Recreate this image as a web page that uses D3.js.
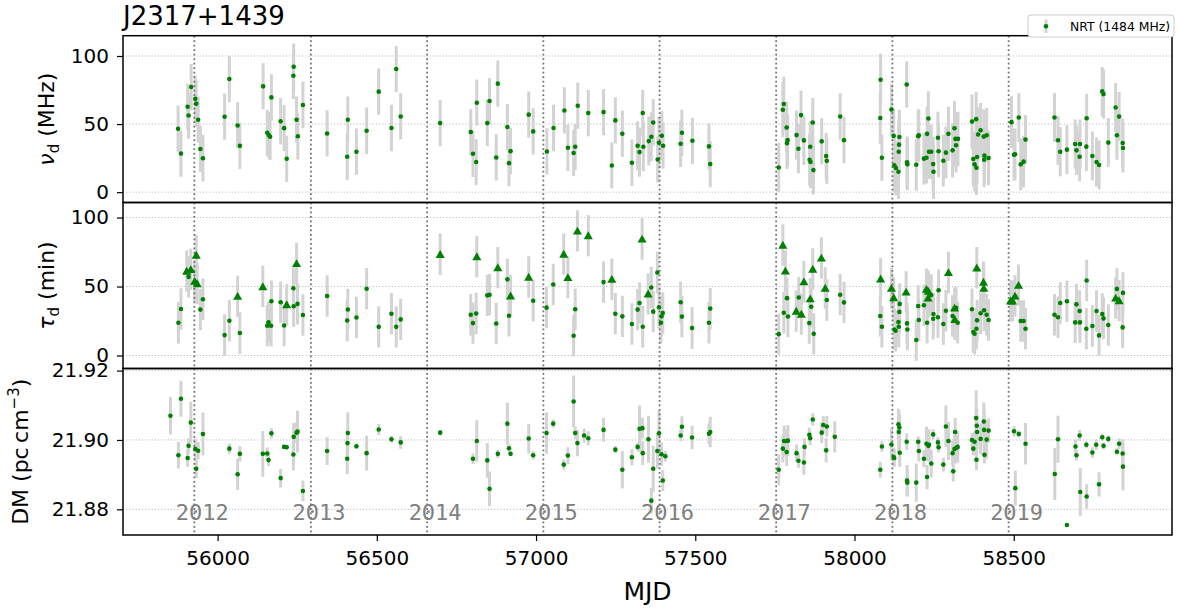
<!DOCTYPE html>
<html><head><meta charset="utf-8">
<script src="https://cdn.jsdelivr.net/npm/d3@7"></script>
<style>body{margin:0;background:#fff} svg{font-family:"DejaVu Sans",sans-serif}</style>
</head><body><svg id="c" width="1177" height="610"></svg>
<script>
const titleText = "J2317+1439";
const legendLabel = "NRT (1484 MHz)";
const xTicks = [56000, 56500, 57000, 57500, 58000, 58500];
const yearMJD = [55927, 56293, 56658, 57023, 57388, 57754, 58119, 58484];
const yearLabels = ["2012", "2013", "2014", "2015", "2016", "2017", "2018", "2019"];
const nuTicks = [0, 50, 100];
const tauTicks = [0, 50, 100];
const dmTicks = [21.88, 21.90, 21.92];

// [MJD, nu_d (MHz), error]
const nuData = [
[55876,46.6,17],[55885,28.3,17],[55906,62.7,17],[55909,56.3,17],[55917,77.2,17],[55930,68.6,17],[55933,65.0,17],[55939,53.2,17],[55946,31.7,17],[55954,24.9,17],
[56022,55.4,17],[56037,83.1,17],[56063,49.0,17],[56070,34.0,17],[56143,77.7,17],[56156,43.6,17],[56161,41.9,17],[56165,40.7,17],[56169,69.6,17],[56198,52.0,17],
[56209,47.0,17],[56217,24.5,17],[56238,85.5,17],[56239,92.1,17],[56248,53.2,17],[56252,41.0,17],[56268,64.0,17],[56344,43.1,17],[56407,26.0,17],[56409,53.2,17],
[56436,29.7,17],[56468,45.1,17],[56506,73.8,17],[56546,47.1,17],[56561,90.4,17],[56575,55.6,17],[56699,50.7,17],[56795,44.1,17],[56802,28.2,17],[56812,22.1,17],
[56814,65.7,17],[56847,50.7,17],[56854,66.9,17],[56875,25.5,17],[56880,79.7,17],[56910,47.8,17],[56915,21.3,17],[56920,30.1,17],[56977,56.9,17],[56991,44.6,17],
[57034,29.9,17],[57055,47.1,17],[57089,60.0,17],[57100,32.6,17],[57118,28.8,17],[57123,33.3,17],[57131,63.5,17],[57164,58.1,17],[57212,58.8,17],[57238,19.6,17],
[57249,52.7,17],[57271,42.9,17],[57301,21.6,17],[57319,34.1,18],[57325,29.4,18],[57335,58.1,17],[57337,33.3,18],[57354,37.5,18],[57362,40.7,18],[57368,51.2,17],
[57382,24.0,17],[57386,36.3,19],[57395,41.4,18],[57399,34.1,17],[57454,35.5,17],[57458,43.6,17],[57491,37.7,17],[57543,33.6,17],[57547,20.6,17],
[57762,18.1,18],[57775,60.5,20],[57778,64.7,20],[57787,47.5,19],[57788,36.0,19],[57790,38.2,19],[57818,41.9,18],[57824,31.9,18],[57832,56.6,18],[57841,38.0,18],
[57859,23.8,19],[57861,33.3,19],[57862,22.1,19],[57869,51.2,18],[57871,16.2,18],[57897,37.3,17],[57911,26.5,17],[57913,23.0,17],[57955,55.6,17],[57967,38.2,17],
[58081,54.5,19],[58082,82.6,19],[58086,25.3,17],[58116,60.7,19],[58123,41.3,20],[58125,19.7,20],[58130,17.7,20],[58138,15.0,20],[58139,29.7,20],[58140,34.9,20],
[58141,40.5,20],[58164,79.1,17],[58165,21.9,19],[58166,20.4,19],[58194,20.1,19],[58200,41.0,19],[58202,41.8,19],[58218,24.6,19],[58226,25.3,19],[58228,42.8,20],
[58232,54.1,20],[58234,29.7,20],[58241,29.7,20],[58247,20.6,20],[58248,15.0,20],[58262,40.0,19],[58264,30.0,19],[58279,23.1,19],[58287,29.0,19],[58295,42.8,20],
[58308,30.7,20],[58314,46.9,20],[58317,39.1,20],[58319,34.4,20],[58325,39.1,20],[58369,51.8,20],[58373,24.3,20],[58377,20.4,20],[58382,53.6,20],[58383,17.9,20],
[58385,25.8,20],[58388,42.3,20],[58396,45.5,20],[58406,40.8,20],[58407,23.8,20],[58408,26.8,20],[58415,41.8,20],[58421,25.1,20],
[58493,51.4,19],[58501,27.5,19],[58504,27.8,19],[58516,54.8,18],[58522,20.4,19],[58531,22.4,19],[58537,38.6,18],[58628,54.8,18],[58639,38.1,18],[58646,29.7,18],
[58667,31.2,18],[58693,35.4,18],[58697,30.7,18],[58707,26.0,18],[58708,35.4,18],[58728,33.4,18],[58729,54.3,18],[58747,26.5,18],[58760,22.1,18],[58768,19.9,18],
[58778,74.0,18],[58782,72.0,18],[58797,36.4,18],[58820,62.2,18],[58824,41.8,18],[58831,55.5,18],[58842,36.1,18],[58843,32.4,18]
];

// [MJD, tau_d (min), error, limit flag (1 = triangle)]
const tauData = [
[55877,23.8,15,0],[55885,33.7,15,0],[55903,61.2,15,1],[55909,57.0,15,0],[55916,62.4,15,1],[55928,53.9,15,1],[55933,72.8,15,1],[55936,52.2,15,1],[55946,33.3,15,0],[55954,40.8,15,0],
[56022,14.8,15,0],[56037,25.2,15,0],[56063,43.0,15,1],[56070,16.3,15,0],[56142,50.0,15,1],[56156,21.6,15,0],[56160,24.0,15,0],[56168,21.6,15,0],[56169,39.3,15,0],[56198,38.6,15,0],
[56209,21.8,15,0],[56217,36.9,15,1],[56238,48.8,15,0],[56239,35.7,15,0],[56248,66.7,15,1],[56251,37.4,15,0],[56268,29.4,15,0],[56344,43.1,15,0],[56407,25.4,15,0],[56409,33.4,15,0],
[56436,27.6,15,0],[56468,48.4,15,0],[56506,20.8,15,0],[56546,30.3,15,0],[56561,20.8,15,0],[56575,26.2,15,0],[56699,73.4,15,1],[56795,29.5,15,0],[56802,23.5,15,0],[56812,30.5,15,0],
[56814,71.7,15,1],[56847,43.6,15,0],[56854,44.1,15,0],[56875,23.2,15,0],[56880,63.7,15,1],[56910,55.2,15,0],[56915,28.8,15,0],[56920,43.3,15,1],[56977,56.9,15,1],[56991,39.7,15,0],
[57033,34.7,15,0],[57054,51.5,15,0],[57087,73.5,15,1],[57100,56.6,15,1],[57118,14.3,15,0],[57123,33.5,15,0],[57130,90.3,15,1],[57164,86.9,15,1],[57212,53.2,15,0],[57238,55.3,15,1],
[57249,30.3,15,0],[57271,28.4,15,0],[57301,22.8,15,0],[57319,33.3,15,0],[57325,38.1,15,0],[57333,84.5,15,1],[57335,20.9,15,0],[57352,44.7,15,1],[57362,49.3,15,0],[57368,31.8,15,0],
[57381,60.2,15,0],[57386,35.0,15,0],[57392,23.8,15,0],[57394,28.4,15,0],[57398,30.8,15,0],[57454,38.6,15,0],[57458,28.2,15,0],[57490,19.9,15,0],[57543,23.8,15,0],[57547,34.0,15,0],
[57762,15.5,15,0],[57775,80.1,15,1],[57778,31.0,15,0],[57783,61.3,15,1],[57788,41.6,15,0],[57791,28.3,15,0],[57817,32.2,15,1],[57825,42.1,15,0],[57833,30.0,15,1],[57841,53.5,15,1],
[57858,23.5,15,0],[57861,41.2,15,1],[57864,35.4,15,0],[57869,62.7,15,1],[57872,15.7,15,0],[57896,70.7,15,1],[57908,48.9,15,1],[57913,40.2,15,0],[57955,44.1,15,0],[57967,38.5,15,0],
[58081,28.6,15,0],[58082,55.6,15,1],[58086,20.9,15,0],[58116,48.8,15,1],[58123,42.0,15,1],[58125,18.9,15,0],[58129,18.0,15,0],[58138,24.3,15,0],[58139,20.9,15,0],[58141,31.6,15,0],
[58142,37.4,15,0],[58162,46.1,15,1],[58165,23.3,15,0],[58166,18.9,15,0],[58194,11.2,15,0],[58200,35.9,15,0],[58202,25.7,15,0],[58218,36.4,15,0],[58226,48.1,15,1],[58228,23.8,15,0],
[58231,41.7,15,1],[58232,46.6,15,1],[58237,43.7,15,0],[58241,43.9,15,0],[58247,26.7,15,0],[58248,30.1,15,0],[58262,27.7,15,0],[58264,47.3,15,0],[58279,22.8,15,0],[58287,32.5,15,0],
[58295,60.2,15,1],[58308,28.6,15,0],[58314,34.5,15,1],[58315,26.2,15,1],[58319,34.5,15,0],[58324,23.8,15,0],[58369,33.5,15,0],[58373,17.0,15,0],[58377,15.8,15,0],[58383,19.4,15,0],
[58384,63.6,15,1],[58385,25.5,15,0],[58396,30.6,15,0],[58405,53.2,15,1],[58406,48.8,15,1],[58407,32.8,15,0],[58415,29.6,15,0],[58421,25.7,15,0],
[58490,39.6,15,1],[58496,39.6,15,1],[58504,43.2,15,1],[58515,51.0,15,1],[58522,25.0,15,0],[58531,25.0,15,0],[58537,19.4,15,0],[58628,29.6,15,0],[58639,27.7,15,0],[58646,38.1,15,0],
[58667,39.3,15,0],[58693,24.0,15,0],[58697,37.1,15,0],[58707,32.3,15,0],[58708,24.0,15,0],[58728,19.4,15,0],[58729,54.4,15,0],[58747,21.4,15,0],[58760,32.3,15,0],[58768,14.6,15,0],
[58778,30.1,15,0],[58782,26.9,15,0],[58797,22.1,15,0],[58820,41.7,15,1],[58824,48.3,15,0],[58831,39.8,15,1],[58842,20.4,15,0],[58843,45.4,15,0]
];

// [MJD, DM (pc cm^-3), error]
const dmData = [
[55852,21.9070,0.0054],[55877,21.8956,0.0038],[55885,21.9119,0.0052],[55906,21.8948,0.0025],[55909,21.8983,0.0022],[55916,21.9050,0.0060],[55930,21.8974,0.0030],[55933,21.8917,0.0027],[55939,21.8969,0.0025],[55954,21.9017,0.0062],
[56037,21.8975,0.0015],[56063,21.8901,0.0045],[56070,21.8960,0.0022],[56142,21.8960,0.0066],[56156,21.8961,0.0017],[56160,21.8942,0.0017],[56169,21.9019,0.0015],[56198,21.8890,0.0027],[56209,21.8980,0.0006],[56217,21.8979,0.0006],
[56238,21.8958,0.0046],[56239,21.9009,0.0040],[56248,21.9021,0.0030],[56251,21.9024,0.0060],[56268,21.8853,0.0030],[56344,21.8968,0.0040],[56407,21.8946,0.0045],[56408,21.8991,0.0040],[56409,21.9020,0.0060],[56436,21.8982,0.0008],
[56468,21.8962,0.0050],[56506,21.9030,0.0016],[56546,21.9002,0.0010],[56575,21.8993,0.0018],[56699,21.9021,0.0008],[56802,21.8946,0.0015],[56814,21.8997,0.0060],[56847,21.8941,0.0050],[56854,21.8859,0.0050],[56880,21.8960,0.0012],
[56910,21.9047,0.0060],[56915,21.8976,0.0012],[56920,21.8960,0.0006],[56977,21.9004,0.0042],[56991,21.8956,0.0012],[57033,21.9020,0.0060],[57054,21.9047,0.0012],[57087,21.8929,0.0015],[57100,21.8955,0.0024],[57118,21.9111,0.0075],
[57123,21.9020,0.0018],[57130,21.8991,0.0038],[57151,21.9013,0.0020],[57164,21.9005,0.0020],[57212,21.9029,0.0034],[57249,21.8972,0.0010],[57271,21.8914,0.0054],[57301,21.8950,0.0023],[57319,21.8980,0.0012],[57325,21.9032,0.0067],
[57334,21.9034,0.0030],[57335,21.8962,0.0034],[57353,21.9002,0.0068],[57362,21.8825,0.0037],[57368,21.8917,0.0066],[57381,21.8968,0.0050],[57386,21.9019,0.0066],[57394,21.8959,0.0034],[57398,21.8883,0.0030],[57406,21.8953,0.0015],
[57454,21.9013,0.0017],[57458,21.9038,0.0030],[57490,21.9007,0.0034],[57543,21.9018,0.0030],[57547,21.9023,0.0044],
[57762,21.8914,0.0045],[57775,21.8975,0.0040],[57779,21.8997,0.0045],[57787,21.8965,0.0040],[57788,21.8997,0.0035],[57791,21.8998,0.0045],[57818,21.8962,0.0025],[57824,21.8940,0.0020],[57841,21.8935,0.0035],[57843,21.8980,0.0025],
[57858,21.9015,0.0020],[57861,21.9005,0.0020],[57869,21.9059,0.0018],[57897,21.9021,0.0030],[57902,21.9043,0.0025],[57911,21.8970,0.0035],[57913,21.9039,0.0030],[57938,21.9009,0.0045],
[58081,21.8914,0.0023],[58086,21.8981,0.0015],[58116,21.8987,0.0045],[58123,21.8951,0.0027],[58125,21.8948,0.0025],[58138,21.9045,0.0045],[58139,21.9023,0.0060],[58141,21.9036,0.0040],[58142,21.8963,0.0040],[58164,21.8995,0.0024],
[58165,21.8883,0.0045],[58166,21.8877,0.0040],[58194,21.8877,0.0055],[58200,21.8995,0.0015],[58202,21.8968,0.0030],[58218,21.8946,0.0025],[58226,21.8989,0.0050],[58228,21.8893,0.0035],[58232,21.8983,0.0045],[58234,21.8986,0.0045],
[58241,21.8932,0.0040],[58247,21.9016,0.0015],[58262,21.8993,0.0015],[58264,21.8979,0.0015],[58279,21.8929,0.0020],[58287,21.9039,0.0060],[58295,21.8997,0.0055],[58308,21.8962,0.0035],[58310,21.8910,0.0030],[58314,21.8974,0.0040],
[58316,21.9023,0.0040],[58319,21.8977,0.0045],[58324,21.8980,0.0045],[58369,21.9000,0.0020],[58373,21.8975,0.0020],[58377,21.8995,0.0030],[58382,21.9063,0.0080],[58383,21.8943,0.0030],[58384,21.9041,0.0050],[58385,21.9023,0.0050],
[58396,21.9003,0.0045],[58406,21.9053,0.0055],[58407,21.9029,0.0055],[58408,21.8957,0.0025],[58415,21.9001,0.0055],[58421,21.9027,0.0035],
[58501,21.9025,0.0015],[58505,21.8861,0.0050],[58516,21.9017,0.0010],[58537,21.8989,0.0060],[58629,21.8902,0.0075],[58639,21.9002,0.0068],[58667,21.8755,0.0005],[58694,21.8981,0.0020],[58697,21.8956,0.0015],[58707,21.9013,0.0016],
[58709,21.8850,0.0069],[58728,21.8986,0.0010],[58729,21.8837,0.0035],[58747,21.8964,0.0015],[58759,21.8986,0.0015],[58768,21.8872,0.0035],[58778,21.9008,0.0010],[58782,21.8983,0.0010],[58797,21.9003,0.0010],[58824,21.8966,0.0010],
[58831,21.8989,0.0015],[58842,21.8961,0.0040],[58843,21.8923,0.0069]
];

const svg = d3.select("#c");
const L = 123, R = 1172;
const x = d3.scaleLinear().domain([55703, 58997]).range([L, R]);
const GREEN = "#008000", BAR = "#d3d3d3";

const panels = [
  {data: nuData, dom: [-7.6, 114.9], top: 35.7, bot: 202.5, ticks: nuTicks, fmt: d3.format("d"), label: "nu", lx: 54},
  {data: tauData, dom: [-9.4, 110.9], top: 202.5, bot: 368.5, ticks: tauTicks, fmt: d3.format("d"), label: "tau", lx: 54},
  {data: dmData, dom: [21.8726, 21.9206], top: 368.5, bot: 535, ticks: dmTicks, fmt: d3.format(".2f"), label: "dm", lx: 28}
];

panels.forEach((p, i) => {
  const y = d3.scaleLinear().domain(p.dom).range([p.bot, p.top]);
  const g = svg.append("g");
  const cid = "clip" + i;
  svg.append("clipPath").attr("id", cid).append("rect")
    .attr("x", L).attr("y", p.top).attr("width", R - L).attr("height", p.bot - p.top);
  const pg = g.append("g").attr("clip-path", `url(#${cid})`);
  // horizontal grid
  pg.selectAll(".hg").data(p.ticks).enter().append("line")
    .attr("x1", L).attr("x2", R).attr("y1", d => y(d)).attr("y2", d => y(d))
    .attr("stroke", "#b0b0b0").attr("stroke-width", 1).attr("stroke-dasharray", "1,2.2");
  // error bars
  pg.selectAll(".eb").data(p.data).enter().append("line")
    .attr("x1", d => x(d[0])).attr("x2", d => x(d[0]))
    .attr("y1", d => y(d[1] - d[2])).attr("y2", d => y(d[1] + d[2]))
    .attr("stroke", BAR).attr("stroke-width", 3);
  // year lines
  pg.selectAll(".yl").data(yearMJD).enter().append("line")
    .attr("x1", d => x(d)).attr("x2", d => x(d)).attr("y1", p.top).attr("y2", p.bot)
    .attr("stroke", "#707070").attr("stroke-width", 1.8).attr("stroke-dasharray", "1.8,2.7");
  // markers
  pg.selectAll(".pt").data(p.data.filter(d => !d[3])).enter().append("circle")
    .attr("cx", d => x(d[0])).attr("cy", d => y(d[1])).attr("r", 2.3).attr("fill", GREEN);
  pg.selectAll(".tr").data(p.data.filter(d => d[3])).enter().append("path")
    .attr("d", d3.symbol(d3.symbolTriangle, 36))
    .attr("transform", d => `translate(${x(d[0])},${y(d[1]) + 1})`).attr("fill", GREEN);
  // y axis
  const ax = g.append("g").attr("transform", `translate(${L},0)`)
    .call(d3.axisLeft(y).tickValues(p.ticks).tickFormat(p.fmt).tickSize(6).tickPadding(8));
  ax.select(".domain").remove();
  ax.selectAll("text").attr("font-size", 20).attr("font-family", "DejaVu Sans").attr("fill", "#000");
  ax.selectAll("line").attr("stroke", "#000").attr("stroke-width", 1.2);
  // frame
  g.append("rect").attr("x", L).attr("y", p.top).attr("width", R - L).attr("height", p.bot - p.top)
    .attr("fill", "none").attr("stroke", "#000").attr("stroke-width", 1.5);
  // y label
  const cy = (p.top + p.bot) / 2;
  const t = svg.append("text").attr("transform", `translate(${p.lx},${cy}) rotate(-90)`)
    .attr("text-anchor", "middle").attr("font-size", 22).attr("fill", "#000");
  if (p.label === "nu") {
    t.append("tspan").attr("font-style", "italic").text("ν");
    t.append("tspan").attr("font-size", 15).attr("dy", 5).text("d");
    t.append("tspan").attr("dy", -5).text(" (MHz)");
  } else if (p.label === "tau") {
    t.append("tspan").attr("font-style", "italic").text("τ");
    t.append("tspan").attr("font-size", 15).attr("dy", 5).text("d");
    t.append("tspan").attr("dy", -5).text(" (min)");
  } else {
    t.append("tspan").text("DM (pc\u2009cm");
    t.append("tspan").attr("font-size", 15).attr("dy", -9).text("\u22123");
    t.append("tspan").attr("dy", 9).text(")");
  }
  if (i === 2) {
    // year labels
    svg.selectAll(".ylab").data(yearLabels).enter().append("text")
      .attr("x", (d, k) => x(yearMJD[k]) + 8).attr("y", 520)
      .attr("text-anchor", "middle").attr("font-family", "DejaVu Sans Mono")
      .attr("font-size", 22).attr("fill", "#808080").text(d => d);
    const xa = svg.append("g").attr("transform", `translate(0,${p.bot})`)
      .call(d3.axisBottom(x).tickValues(xTicks).tickFormat(d3.format("d")).tickSize(6).tickPadding(10));
    xa.select(".domain").remove();
    xa.selectAll("text").attr("font-size", 20).attr("font-family", "DejaVu Sans").attr("fill", "#000");
    xa.selectAll("line").attr("stroke", "#000").attr("stroke-width", 1.2);
  }
});

// x label
svg.append("text").attr("x", (L + R) / 2).attr("y", 600).attr("text-anchor", "middle")
  .attr("font-size", 25).text("MJD");
// title
svg.append("text").attr("x", L).attr("y", 25).attr("font-size", 26).text(titleText);
// legend
const lg = svg.append("g");
lg.append("rect").attr("x", 1028).attr("y", 15).attr("width", 146).attr("height", 22).attr("rx", 3)
  .attr("fill", "#fff").attr("stroke", "#cccccc").attr("stroke-width", 1);
lg.append("line").attr("x1", 1046).attr("x2", 1046).attr("y1", 19.5).attr("y2", 33)
  .attr("stroke", BAR).attr("stroke-width", 3);
lg.append("circle").attr("cx", 1046).attr("cy", 26.3).attr("r", 2.3).attr("fill", GREEN);
lg.append("text").attr("x", 1070).attr("y", 30.8).attr("font-size", 12.4).text(legendLabel);
</script></body></html>
